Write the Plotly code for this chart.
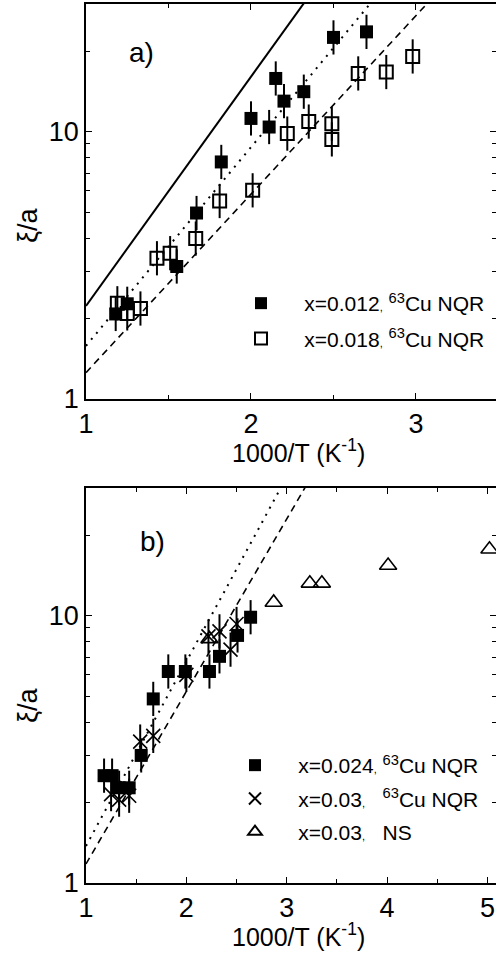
import numpy as np
import plotly.graph_objects as go

# ---------------- data ----------------
# panel a)
a_x012_x = [1.18, 1.25, 1.55, 1.67, 1.82, 2.00, 2.11, 2.15, 2.20, 2.32, 2.50, 2.70]
a_x012_y = [2.08, 2.27, 3.13, 4.96, 7.7, 11.2, 10.4, 15.8, 13.0, 14.1, 22.5, 23.6]
a_x018_x = [1.19, 1.25, 1.33, 1.43, 1.51, 1.665, 1.81, 2.01, 2.22, 2.35, 2.49, 2.49, 2.65, 2.82, 2.98]
a_x018_y = [2.28, 2.09, 2.18, 3.36, 3.51, 3.98, 5.5, 6.03, 9.83, 10.9, 10.7, 9.35, 16.5, 16.7, 19.1]
# fit lines a): xi = A * 10**(B*(x-1)), drawn from x0 to x1
a_solid = dict(A=2.23, B=0.857, x0=1.0, x1=2.4)
a_dot = dict(A=1.58, B=0.743, x0=1.0, x1=2.8)
a_dash = dict(A=1.255, B=0.6675, x0=1.0, x1=3.2)

# panel b)
b_x024_x = [1.18, 1.26, 1.33, 1.43, 1.55, 1.67, 1.82, 1.99, 2.23, 2.33, 2.51, 2.64]
b_x024_y = [2.52, 2.52, 2.27, 2.27, 3.0, 4.88, 6.18, 6.18, 6.18, 7.04, 8.43, 9.86]
b_x03_x = [1.25, 1.33, 1.43, 1.54, 1.67, 2.00, 2.22, 2.33, 2.44, 2.50]
b_x03_y = [2.15, 2.05, 2.12, 3.38, 3.55, 6.0, 8.36, 8.73, 7.46, 9.3]
b_ns_x = [2.23, 2.87, 3.23, 3.35, 4.01, 5.02]
b_ns_y = [8.18, 11.2, 13.2, 13.2, 15.4, 17.7]
b_dot = dict(A=1.376, B=0.69, x0=1.0, x1=2.93)
b_dash = dict(A=1.178, B=0.645, x0=1.0, x1=3.3)

# relative error (in decades) of the NQR points
ERR_DEC = 0.064

xticks_a = [1, 2, 3]
xticks_b = [1, 2, 3, 4, 5]
yticks = [1, 10]
yminor = [2, 3, 4, 5, 6, 7, 8, 9, 20]

# ---------------- figure ----------------
W, H = 496, 955
FONT = "Liberation Sans, Arial, sans-serif"


def pxx(p):
    return p / W


def pxy(p):
    return 1 - p / H


def errs(y):
    y = np.asarray(y, float)
    return dict(type="data", symmetric=False,
                array=y * (10 ** ERR_DEC - 1), arrayminus=y * (1 - 10 ** -ERR_DEC),
                color="black", thickness=2, width=0)


def fitline(p, n=60):
    x = np.linspace(p["x0"], p["x1"], n)
    return x, p["A"] * 10 ** (p["B"] * (x - 1))


fig = go.Figure()

# lines panel a
for p, dash, w in [(a_solid, "solid", 2), (a_dot, "2px,6px", 2), (a_dash, "7px,5px", 1.6)]:
    x, y = fitline(p)
    fig.add_trace(go.Scatter(x=x, y=y, mode="lines", xaxis="x", yaxis="y",
                             line=dict(color="black", width=w, dash=dash),
                             showlegend=False, hoverinfo="skip"))
# lines panel b
for p, dash, w in [(b_dot, "2px,6px", 2), (b_dash, "7px,5px", 1.6)]:
    x, y = fitline(p)
    fig.add_trace(go.Scatter(x=x, y=y, mode="lines", xaxis="x2", yaxis="y2",
                             line=dict(color="black", width=w, dash=dash),
                             showlegend=False, hoverinfo="skip"))

SP = "\u00a0"
COMMA = "<span style='font-size:11px'>,</span>"
# data panel a
fig.add_trace(go.Scatter(x=a_x012_x, y=a_x012_y, mode="markers", xaxis="x", yaxis="y",
                         marker=dict(symbol="square", size=13, color="black"),
                         error_y=errs(a_x012_y), legend="legend", legendgroup="a1",
                         name=SP * 4 + "x=0.012" + COMMA + " <sup>63</sup>Cu NQR"))
fig.add_trace(go.Scatter(x=a_x018_x, y=a_x018_y, mode="markers", xaxis="x", yaxis="y",
                         marker=dict(symbol="square-open", size=13, color="black", line=dict(width=2)),
                         error_y=errs(a_x018_y), legend="legend", legendgroup="a2",
                         name=SP * 4 + "x=0.018" + COMMA + " <sup>63</sup>Cu NQR"))
# data panel b
fig.add_trace(go.Scatter(x=b_x024_x, y=b_x024_y, mode="markers", xaxis="x2", yaxis="y2",
                         marker=dict(symbol="square", size=13, color="black"),
                         error_y=errs(b_x024_y), legend="legend2", legendgroup="b1",
                         name=SP * 4 + "x=0.024" + COMMA + " <sup>63</sup>Cu NQR"))
fig.add_trace(go.Scatter(x=b_x03_x, y=b_x03_y, mode="markers", xaxis="x2", yaxis="y2",
                         marker=dict(symbol="x-thin-open", size=14, color="black", line=dict(width=1.6)),
                         error_y=errs(b_x03_y), legend="legend2", legendgroup="b2",
                         name=SP * 4 + "x=0.03" + COMMA + SP * 3 + "<sup>63</sup>Cu NQR"))
fig.add_trace(go.Scatter(x=b_ns_x, y=b_ns_y, mode="markers", xaxis="x2", yaxis="y2",
                         marker=dict(symbol="triangle-up-open", size=15, color="black", line=dict(width=1.6)),
                         legend="legend2", legendgroup="b3",
                         name=SP * 4 + "x=0.03" + COMMA + SP * 3 + "NS"))

axis_common = dict(showline=True, linecolor="black", linewidth=1.5, mirror="allticks",
                   ticks="inside", ticklen=6, tickwidth=1.3, tickcolor="black",
                   showgrid=False, zeroline=False, automargin=False,
                   tickfont=dict(family=FONT, size=27, color="black"))

ymin, ymax = 0, np.log10(30)

fig.update_layout(
    width=W, height=H, margin=dict(l=0, r=0, t=0, b=0, autoexpand=False),
    paper_bgcolor="white", plot_bgcolor="white",
    font=dict(family=FONT, color="black"),
    xaxis=dict(axis_common, domain=[pxx(86), 1], range=[1, 3.485], anchor="y",
               tickvals=xticks_a,
               minor=dict(dtick=0.5, ticks="inside", ticklen=4, tickcolor="black", showgrid=False)),
    yaxis=dict(axis_common, type="log", domain=[pxy(399), pxy(4)], range=[ymin, ymax], anchor="x",
               tickvals=yticks, ticktext=[str(v) for v in yticks],
               minor=dict(tickvals=yminor, ticks="inside", ticklen=4, tickcolor="black", showgrid=False)),
    xaxis2=dict(axis_common, domain=[pxx(86), 1], range=[1, 5.085], anchor="y2",
                tickvals=xticks_b,
                minor=dict(dtick=0.5, ticks="inside", ticklen=4, tickcolor="black", showgrid=False)),
    yaxis2=dict(axis_common, type="log", domain=[pxy(883), pxy(488)], range=[ymin, ymax], anchor="x2",
                tickvals=yticks, ticktext=[str(v) for v in yticks],
                minor=dict(tickvals=yminor, ticks="inside", ticklen=4, tickcolor="black", showgrid=False)),
    legend=dict(x=pxx(241), y=pxy(283), xanchor="left", yanchor="top",
                font=dict(family=FONT, size=21, color="black"), bgcolor="rgba(0,0,0,0)",
                tracegroupgap=5, itemsizing="constant"),
    legend2=dict(x=pxx(235), y=pxy(745), xanchor="left", yanchor="top",
                 font=dict(family=FONT, size=21, color="black"), bgcolor="rgba(0,0,0,0)",
                 tracegroupgap=3, itemsizing="constant"),
    showlegend=True,
)

ann = []
for txt, x, y in [("a)", 141, 53), ("b)", 152, 541)]:
    ann.append(dict(text=txt, x=pxx(x), y=pxy(y), xref="paper", yref="paper",
                    xanchor="center", yanchor="middle",
                    showarrow=False, font=dict(family=FONT, size=28, color="black")))
for y in [225, 705]:
    ann.append(dict(text="ξ/a", x=pxx(28), y=pxy(y), xref="paper", yref="paper", textangle=-90,
                    xanchor="center", yanchor="middle",
                    showarrow=False, font=dict(family=FONT, size=27, color="black")))
for y in [451, 935]:
    ann.append(dict(text="1000/T (K<sup>-1</sup>)", x=pxx(298), y=pxy(y), xref="paper", yref="paper",
                    xanchor="center", yanchor="middle",
                    showarrow=False, font=dict(family=FONT, size=25, color="black")))
fig.update_layout(annotations=ann)

fig.write_html("out.html", config={"displayModeBar": False},
               post_script="document.body.style.margin='0';document.body.style.overflow='hidden';")
